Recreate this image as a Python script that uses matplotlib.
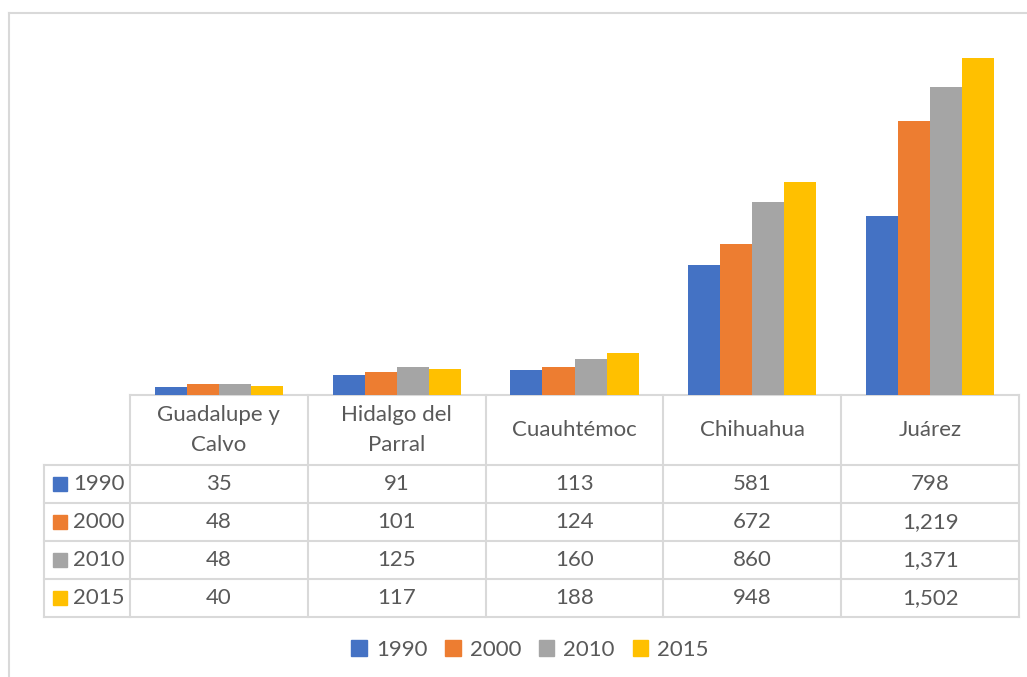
import matplotlib
matplotlib.use("Agg")
import matplotlib.pyplot as plt
from matplotlib.patches import Patch
import numpy as np

# data
cities = ["Guadalupe y\nCalvo", "Hidalgo del\nParral", "Cuauhtémoc", "Chihuahua", "Juárez"]
years = ["1990", "2000", "2010", "2015"]
v1990 = [35, 91, 113, 581, 798]
v2000 = [48, 101, 124, 672, 1219]
v2010 = [48, 125, 160, 860, 1371]
v2015 = [40, 117, 188, 948, 1502]
series = [v1990, v2000, v2010, v2015]
colors = ["#4472C4", "#ED7D31", "#A5A5A5", "#FFC000"]

plt.rcParams["font.family"] = ["Lato", "DejaVu Sans"]
TXT = "#595959"
GRID = "#d9d9d9"

W, H = 1027, 677
fig = plt.figure(figsize=(W / 100, H / 100), dpi=100)

# layout in pixels
x0, x1 = 130, 1019          # category columns
xl = 44                     # row-label column left edge
y_base, y_top = 395, 36     # plot area
y_hdr = 465
row_h = 38

# overlay axes in pixel coordinates for table and frame
ov = fig.add_axes([0, 0, 1, 1])
ov.set_xlim(0, W); ov.set_ylim(H, 0); ov.axis("off")

# bars
ax = fig.add_axes([x0 / W, (H - y_base) / H, (x1 - x0) / W, (y_base - y_top) / H])
n = len(cities)
x = np.arange(n)
bw = 0.18
for i, (vals, c) in enumerate(zip(series, colors)):
    ax.bar(x + (i - 1.5) * bw, vals, bw, color=c, zorder=2)
ax.set_xlim(-0.5, n - 0.5)
ax.set_ylim(0, 1600)
ax.axis("off")

# frame (top and left edges visible)
ov.plot([9, W], [13, 13], color=GRID, lw=1.5)
ov.plot([9, 9], [13, H], color=GRID, lw=1.5)

# data table
colw = (x1 - x0) / n
y_end = y_hdr + row_h * len(years)
ov.plot([x0, x1], [y_base, y_base], color=GRID, lw=1.5)
for k in range(len(years) + 1):
    yy = y_hdr + k * row_h
    ov.plot([xl, x1], [yy, yy], color=GRID, lw=1.5)
ov.plot([xl, xl], [y_hdr, y_end], color=GRID, lw=1.5)
for j in range(n + 1):
    ov.plot([x0 + j * colw] * 2, [y_base, y_end], color=GRID, lw=1.5)

fs = 16
for j, name in enumerate(cities):
    ov.text(x0 + (j + 0.5) * colw, (y_base + y_hdr) / 2, name, ha="center",
            va="center", fontsize=fs, color=TXT, linespacing=1.65)
for r, (yr, vals, c) in enumerate(zip(years, series, colors)):
    yc = y_hdr + (r + 0.5) * row_h
    ov.add_patch(plt.Rectangle((53, yc - 7), 14, 14, color=c))
    ov.text(73, yc, yr, ha="left", va="center", fontsize=fs, color=TXT)
    for j, v in enumerate(vals):
        ov.text(x0 + (j + 0.5) * colw, yc, f"{v:,}", ha="center", va="center",
                fontsize=fs, color=TXT)

# legend
handles = [Patch(color=c, label=y) for y, c in zip(years, colors)]
fig.legend(handles=handles, loc="center", bbox_to_anchor=(530 / W, 1 - 650 / H),
           ncol=4, frameon=False, fontsize=fs, labelcolor=TXT,
           handlelength=0.7, handleheight=0.7, handletextpad=0.4, columnspacing=0.8)

fig.savefig("out.png", dpi=100)
